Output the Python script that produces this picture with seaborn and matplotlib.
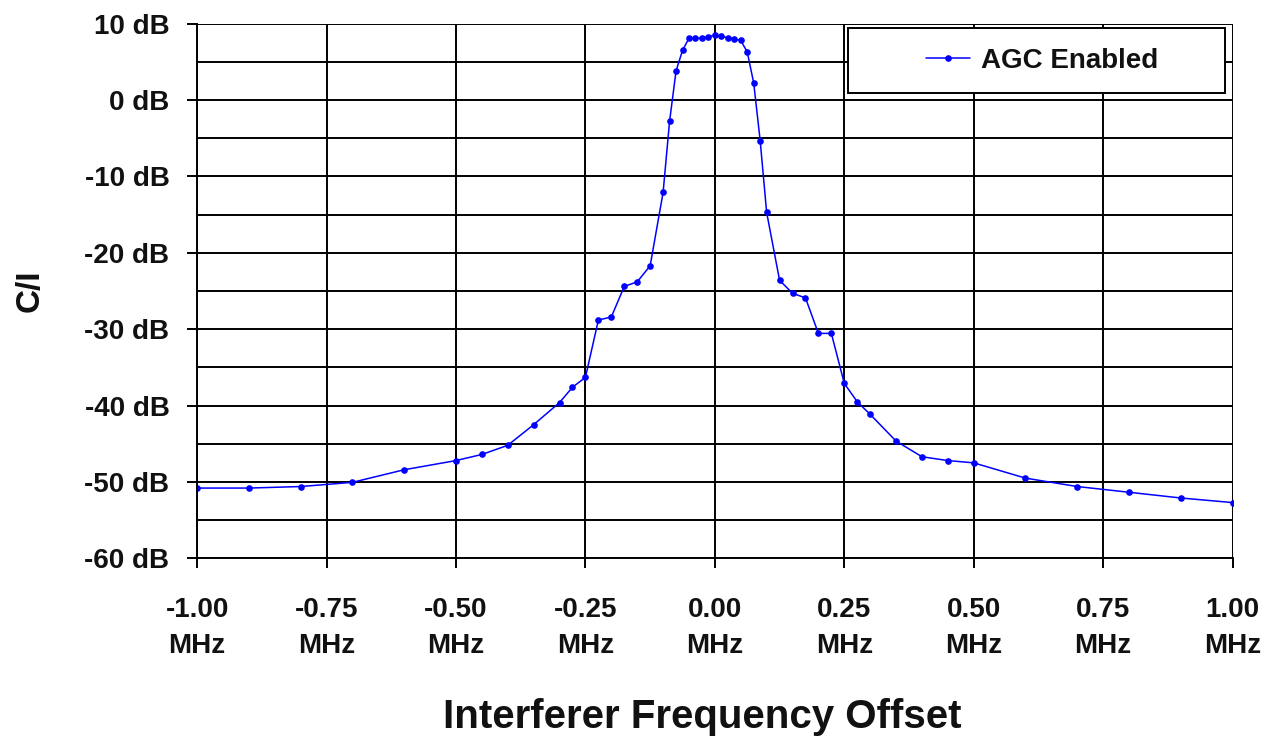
import matplotlib
matplotlib.use("Agg")
import matplotlib.pyplot as plt
import seaborn as sns
import pandas as pd
from matplotlib.ticker import MultipleLocator, FuncFormatter
from matplotlib.patches import Rectangle

# interferer offset (MHz) and measured C/I (dB), AGC enabled
freq_mhz = [-1.0, -0.9, -0.8, -0.7, -0.6, -0.5, -0.45, -0.4, -0.35, -0.3, -0.275,
            -0.25, -0.225, -0.2, -0.175, -0.15, -0.125, -0.1, -0.0875, -0.075,
            -0.0625, -0.05, -0.0375, -0.025, -0.0125, 0.0, 0.0125, 0.025, 0.0375,
            0.05, 0.0625, 0.075, 0.0875, 0.1, 0.125, 0.15, 0.175, 0.2, 0.225,
            0.25, 0.275, 0.3, 0.35, 0.4, 0.45, 0.5, 0.6, 0.7, 0.8, 0.9, 1.0]
ci_db = [-50.8, -50.8, -50.6, -50.05, -48.4, -47.2, -46.4, -45.2, -42.5, -39.6, -37.6,
         -36.3, -28.8, -28.4, -24.4, -23.8, -21.7, -12.1, -2.8, 3.8,
         6.5, 8.1, 8.1, 8.1, 8.3, 8.5, 8.4, 8.1, 8.0,
         7.8, 6.3, 2.25, -5.3, -14.7, -23.6, -25.3, -25.9, -30.55, -30.55,
         -37.1, -39.5, -41.15, -44.65, -46.7, -47.2, -47.5, -49.5, -50.6, -51.35, -52.1, -52.7]
series_name = "AGC Enabled"

df = pd.DataFrame({"freq": freq_mhz, "ci": ci_db})

sns.set_style("white")
plt.rcParams['font.family'] = ['Liberation Sans', 'DejaVu Sans']

fig = plt.figure(figsize=(12.72, 7.4), dpi=100)
ax = fig.add_axes([0.155, 0.2455, 0.814, 0.7225])

sns.lineplot(data=df, x="freq", y="ci", ax=ax, color="#0000ff", linewidth=1.1,
             marker="o", markersize=4.8, markeredgewidth=0, label=series_name)

ax.set_xlim(-1.0, 1.0)
ax.set_ylim(-60, 10)
ax.xaxis.set_major_locator(MultipleLocator(0.25))
ax.yaxis.set_major_locator(MultipleLocator(10))
ax.yaxis.set_minor_locator(MultipleLocator(5))
ax.xaxis.set_major_formatter(FuncFormatter(lambda v, p: "%.2f\nMHz" % v))
ax.yaxis.set_major_formatter(FuncFormatter(lambda v, p: "%d dB" % v))

ax.grid(True, which="major", color="black", linewidth=1.4)
ax.grid(True, which="minor", axis="y", color="black", linewidth=1.4)

for s in ["top", "right"]:
    ax.spines[s].set_visible(False)
for s in ["left", "bottom"]:
    ax.spines[s].set_color("black")
    ax.spines[s].set_linewidth(1.4)

ax.tick_params(axis="y", which="major", direction="out", length=7, width=1.4,
               color="black", left=True, labelsize=20, pad=13, labelcolor="#111111")
ax.tick_params(axis="y", which="minor", left=False)
ax.tick_params(axis="x", direction="out", length=7, width=1.4, color="black",
               bottom=True, labelsize=20, pad=21, labelcolor="#111111")
for lbl in ax.get_xticklabels() + ax.get_yticklabels():
    lbl.set_fontweight("bold")
for lbl in ax.get_xticklabels():
    lbl.set_linespacing(1.5)

ax.set_xlabel("Interferer Frequency Offset", fontsize=29, fontweight="bold", color="#111111")
ax.xaxis.set_label_coords(0.4875, -0.262)
ax.set_ylabel("C/I", fontsize=24, fontweight="bold", color="#111111")
ax.yaxis.set_label_coords(-0.146, 0.5)

# legend: white framed box with the entry centred inside
box = Rectangle((0.629, 0.870), 0.364, 0.1216, transform=ax.transAxes,
                facecolor="white", edgecolor="black", linewidth=1.4, zorder=5)
ax.add_patch(box)
leg = ax.legend(loc="center", bbox_to_anchor=(0.816, 0.931), fontsize=20,
                frameon=False, handlelength=1.6, handletextpad=0.4, borderpad=0)
leg.set_zorder(6)
for t in leg.get_texts():
    t.set_fontweight("bold")
    t.set_color("#111111")

fig.savefig("out.png", dpi=100, facecolor="white")
